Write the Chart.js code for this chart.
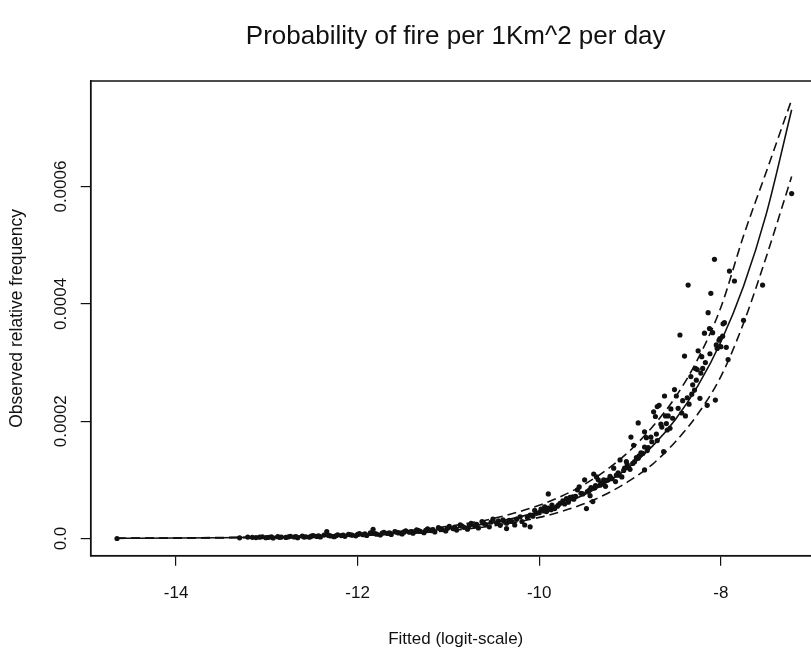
<!DOCTYPE html>
<html>
<head>
<meta charset="utf-8">
<title>Probability of fire per 1Km^2 per day</title>
<script src="https://cdn.jsdelivr.net/npm/chart.js@4.4.1/dist/chart.umd.min.js"></script>
<style>
  html, body { margin: 0; padding: 0; background: #fff; overflow: hidden; }
  #wrap { width: 830px; height: 648px; }
</style>
</head>
<body>
<div id="wrap"><canvas id="plot" width="830" height="648"></canvas></div>
<script>
// axis ticks, as printed
const xTicks = [-14, -12, -10, -8];
const xTickLabels = ["-14", "-12", "-10", "-8"];
const yTicks = [0, 0.0002, 0.0004, 0.0006];
const yTickLabels = ["0.0", "0.0002", "0.0004", "0.0006"];

// fitted curve and the two dashed bands
const curveX = [-14.65, -14.0, -13.5, -13.0, -12.5, -12.0, -11.5, -11.0, -10.5, -10.0,
    -9.75, -9.5, -9.25, -9.0, -8.75, -8.5, -8.25, -8.0, -7.75, -7.5, -7.22];
const fitY = [0.0000004, 0.0000008, 0.0000014, 0.0000023, 0.0000037, 0.0000061, 0.0000101,
    0.0000167, 0.0000275, 0.0000454, 0.0000583, 0.0000749, 0.0000961, 0.000123, 0.000158,
    0.000203, 0.000261, 0.000335, 0.000430, 0.000553, 0.000731];
const upperY = [0.0000005, 0.0000010, 0.0000018, 0.0000029, 0.0000047, 0.0000077, 0.0000127,
    0.0000209, 0.0000344, 0.0000567, 0.0000725, 0.0000925, 0.000118, 0.000150, 0.000191,
    0.000241, 0.000307, 0.000394, 0.000516, 0.000625, 0.000748];
const lowerY = [0.0000003, 0.0000006, 0.0000011, 0.0000018, 0.0000029, 0.0000048, 0.0000080,
    0.0000132, 0.0000218, 0.0000360, 0.0000463, 0.0000596, 0.0000768, 0.0000990, 0.000127,
    0.000165, 0.000213, 0.000276, 0.000367, 0.000480, 0.000617];

// observed points
const obsX = [
    -14.65,
    -13.30, -13.21, -13.12, -13.05, -12.98, -12.93, -12.88, -12.84, -12.79, -12.74,
    -12.70, -12.66, -12.61, -12.57, -12.53, -12.49, -12.45, -12.41, -12.37, -12.34,
    -12.30, -12.26, -12.22, -12.18, -12.14, -12.10, -12.06, -12.02, -11.98, -11.94,
    -11.90, -11.86, -11.83, -11.79, -11.75, -11.71, -11.67, -11.63, -11.59, -11.55,
    -11.51, -11.47, -11.43, -11.39, -11.35, -11.31, -11.27, -11.23, -11.19, -11.15,
    -11.11, -11.07, -11.03, -10.99, -10.95, -10.91, -10.87, -10.83, -10.79, -10.75,
    -10.71, -10.67, -10.63, -10.59, -10.55, -10.51, -10.47, -10.43, -10.39,
    -13.16, -13.08, -13.01, -12.95, -12.86, -12.76, -12.68, -12.59, -12.51, -12.43,
    -12.32, -12.24, -12.16, -12.08, -12.00, -11.92, -11.81, -11.73, -11.65, -11.57,
    -11.49, -11.41, -11.33, -11.25, -11.17, -11.09, -11.01, -10.93, -10.85, -10.77,
    -10.69, -10.61, -10.53, -10.45,
    -10.40, -10.36, -10.36, -10.30, -10.27, -10.21, -10.16, -10.10, -10.10, -10.05,
    -10.03, -10.00, -9.95, -9.94, -9.90, -9.90, -9.87, -9.86, -9.83, -9.80,
    -9.79, -9.74, -9.70, -9.68, -9.63, -9.62, -9.58, -9.56, -9.54, -9.50,
    -9.48, -9.47, -9.45, -9.44, -9.41, -9.40, -9.39, -9.37, -9.35, -9.33,
    -9.30, -9.29, -9.27, -9.24, -9.20, -9.18, -9.16, -9.13, -9.12, -9.11,
    -9.09, -9.06, -9.04, -9.03, -9.00, -8.99, -8.96, -8.95, -8.91, -8.91,
    -8.90, -8.86, -8.84, -8.84, -8.84, -8.82, -8.80, -8.77, -8.74, -8.72,
    -8.70, -8.70, -8.68, -8.66, -8.63, -8.62, -8.61, -8.59, -8.58, -8.56,
    -8.55, -8.51, -8.49, -8.45, -8.43, -8.40, -8.39, -8.36, -8.35, -8.33,
    -8.32, -8.29, -8.28, -8.26, -8.25, -8.23, -8.21, -8.20, -8.18, -8.15,
    -8.14, -8.125, -8.11, -8.09, -8.07, -8.06, -8.04, -8.02, -8.01, -8.00,
    -7.975, -7.96, -7.94, -7.92, -7.905, -7.85, -7.75, -7.54, -7.22,
    -10.33, -10.25, -10.19, -10.13, -10.07, -9.98, -9.92, -9.85, -9.77, -9.72,
    -9.66, -9.60, -9.52, -9.43, -9.38, -9.32, -9.26, -9.22, -9.15, -9.07,
    -9.02, -8.97, -8.93, -8.88, -8.81, -8.76, -8.71, -8.65, -8.60, -8.53,
    -8.47, -8.42, -8.37, -8.31, -8.27, -8.22, -8.17, -8.12, -8.05, -7.98
];
const obsY = [
    0,
    0.0000012, 0.0000025, 0.0000016, 0.0000030, 0.0000021, 0.0000009, 0.0000032, 0.0000024, 0.0000018, 0.0000037,
    0.0000026, 0.0000014, 0.0000042, 0.0000030, 0.0000022, 0.0000048, 0.0000035, 0.0000027, 0.0000058, 0.0000116,
    0.0000044, 0.0000031, 0.0000063, 0.0000050, 0.0000038, 0.0000072, 0.0000057, 0.0000045, 0.0000084, 0.0000066,
    0.0000052, 0.0000095, 0.0000157, 0.0000074, 0.0000060, 0.0000105, 0.0000086, 0.0000070, 0.0000118, 0.0000096,
    0.0000079, 0.0000130, 0.0000108, 0.0000090, 0.0000146, 0.0000121, 0.0000100, 0.0000165, 0.0000136, 0.0000112,
    0.0000186, 0.0000152, 0.0000128, 0.0000206, 0.0000170, 0.0000144, 0.0000232, 0.0000190, 0.0000160, 0.0000258,
    0.0000213, 0.0000180, 0.0000290, 0.0000238, 0.0000200, 0.0000330, 0.0000268, 0.0000225, 0.0000295,
    0.0000020, 0.0000022, 0.0000015, 0.0000028, 0.0000020, 0.0000029, 0.0000033, 0.0000025, 0.0000040, 0.0000044,
    0.0000052, 0.0000046, 0.0000060, 0.0000064, 0.0000070, 0.0000078, 0.0000085, 0.0000092, 0.0000098, 0.0000107,
    0.0000115, 0.0000120, 0.0000134, 0.0000140, 0.0000150, 0.0000165, 0.0000175, 0.0000185, 0.0000210, 0.0000220,
    0.0000240, 0.0000260, 0.0000280, 0.0000300,
    0.0000320, 0.0000260, 0.0000170, 0.0000290, 0.0000230, 0.0000370, 0.0000230, 0.0000400, 0.0000200, 0.0000480,
    0.0000430, 0.0000440, 0.0000470, 0.0000540, 0.0000760, 0.0000520, 0.0000490, 0.0000570, 0.0000510, 0.0000550,
    0.0000570, 0.0000640, 0.0000680, 0.0000620, 0.0000710, 0.0000670, 0.0000830, 0.0000880, 0.0000770, 0.000100,
    0.0000510, 0.0000800, 0.0000820, 0.0000730, 0.0000630, 0.000110, 0.0000860, 0.000105, 0.000100, 0.0000910,
    0.0000930, 0.000100, 0.0000890, 0.000100, 0.000102, 0.000120, 0.0000970, 0.000112, 0.000108, 0.000134,
    0.000105, 0.000120, 0.000131, 0.000126, 0.000118, 0.000173, 0.000159, 0.000131, 0.000137, 0.000197,
    0.000141, 0.000145, 0.000182, 0.000156, 0.000117, 0.000172, 0.000155, 0.000173, 0.000216, 0.000208,
    0.000225, 0.000167, 0.000227, 0.000195, 0.000148, 0.000243, 0.000209, 0.000185, 0.000209, 0.000188,
    0.000221, 0.000254, 0.000243, 0.000347, 0.000214, 0.000311, 0.000209, 0.000432, 0.000229, 0.000276,
    0.000246, 0.000253, 0.000290, 0.000288, 0.000320, 0.000239, 0.000310, 0.000290, 0.000350, 0.000227,
    0.000385, 0.000358, 0.000418, 0.000351, 0.000476, 0.000236, 0.000324, 0.000338, 0.000341, 0.000327,
    0.000366, 0.000368, 0.000326, 0.000305, 0.000456, 0.000439, 0.000372, 0.000432, 0.000588,
    0.0000310, 0.0000330, 0.0000290, 0.0000360, 0.0000380, 0.0000500, 0.0000460, 0.0000530, 0.0000600, 0.0000590,
    0.0000700, 0.0000720, 0.0000760, 0.0000870, 0.0000900, 0.0000950, 0.0000990, 0.000106, 0.000108, 0.000116,
    0.000121, 0.000128, 0.000138, 0.000146, 0.000150, 0.000165, 0.000178, 0.000190, 0.000196, 0.000205,
    0.000222, 0.000235, 0.000240, 0.000262, 0.000270, 0.000282, 0.000300, 0.000315, 0.000330, 0.000345
];

const X_MIN = -14.94, X_MAX = -6.90;
const Y_MIN = -0.0000293, Y_MAX = 0.00078;

const FONT = "'Liberation Sans', Arial, Helvetica, sans-serif";
const INK = "#111";

function pairs(xs, ys) {
    return xs.map((x, i) => ({x, y: ys[i]}));
}

function curve(label, ys, dash) {
    return {
        label,
        data: pairs(curveX, ys),
        showLine: true,
        borderColor: INK,
        borderWidth: 1.6,
        borderDash: dash,
        pointRadius: 0,
        cubicInterpolationMode: "monotone",
        fill: false
    };
}

// R-style box round the plotting region
const boxPlugin = {
    id: "box",
    afterDraw(chart) {
        const {ctx, chartArea: a} = chart;
        ctx.save();
        ctx.strokeStyle = INK;
        ctx.lineWidth = 1.5;
        ctx.strokeRect(a.left, a.top, a.right - a.left, a.bottom - a.top);
        ctx.restore();
    }
};

Chart.defaults.font.family = FONT;
Chart.defaults.color = INK;

new Chart(document.querySelector("#plot"), {
    type: "scatter",
    data: {
        datasets: [
            {
                label: "observed",
                data: pairs(obsX, obsY),
                backgroundColor: INK,
                borderColor: INK,
                borderWidth: 0,
                pointRadius: 2.6,
                pointHoverRadius: 2.6
            },
            curve("fitted", fitY, []),
            curve("upper", upperY, [9, 5]),
            curve("lower", lowerY, [9, 5])
        ]
    },
    options: {
        responsive: false,
        animation: false,
        devicePixelRatio: 1,
        layout: {padding: {left: 0, right: 9.3, top: 0, bottom: 0}},
        plugins: {
            legend: {display: false},
            tooltip: {enabled: false},
            title: {
                display: true,
                text: "Probability of fire per 1Km^2 per day",
                fullSize: false,
                color: INK,
                font: {family: FONT, size: 26, weight: "normal"},
                padding: {top: 21, bottom: 28.8}
            }
        },
        scales: {
            x: {
                type: "linear",
                min: X_MIN,
                max: X_MAX,
                afterBuildTicks: s => { s.ticks = xTicks.map(v => ({value: v})); },
                afterFit: s => { s.height = 92.3; },
                ticks: {
                    font: {size: 17},
                    color: INK,
                    padding: 17,
                    maxRotation: 0,
                    callback: (v, i) => xTickLabels[i]
                },
                grid: {drawOnChartArea: false, drawTicks: true, tickLength: 10, color: INK, lineWidth: 1.2},
                border: {display: true, color: INK, width: 1.5},
                title: {
                    display: true,
                    text: "Fitted (logit-scale)",
                    color: INK,
                    font: {size: 17, lineHeight: 1},
                    padding: {top: 0, bottom: 0}
                }
            },
            y: {
                type: "linear",
                min: Y_MIN,
                max: Y_MAX,
                afterBuildTicks: s => { s.ticks = yTicks.map(v => ({value: v})); },
                afterFit: s => { s.width = 90.7; },
                ticks: {
                    font: {size: 17},
                    color: INK,
                    minRotation: 90,
                    maxRotation: 90,
                    crossAlign: "center",
                    padding: -7,
                    callback: (v, i) => yTickLabels[i]
                },
                grid: {drawOnChartArea: false, drawTicks: true, tickLength: 10, color: INK, lineWidth: 1.2},
                border: {display: true, color: INK, width: 1.5},
                title: {
                    display: true,
                    text: "Observed relative frequency",
                    color: INK,
                    font: {size: 17.5},
                    padding: {top: 6.5, bottom: 0}
                }
            }
        }
    },
    plugins: [boxPlugin]
});
</script>
</body>
</html>
